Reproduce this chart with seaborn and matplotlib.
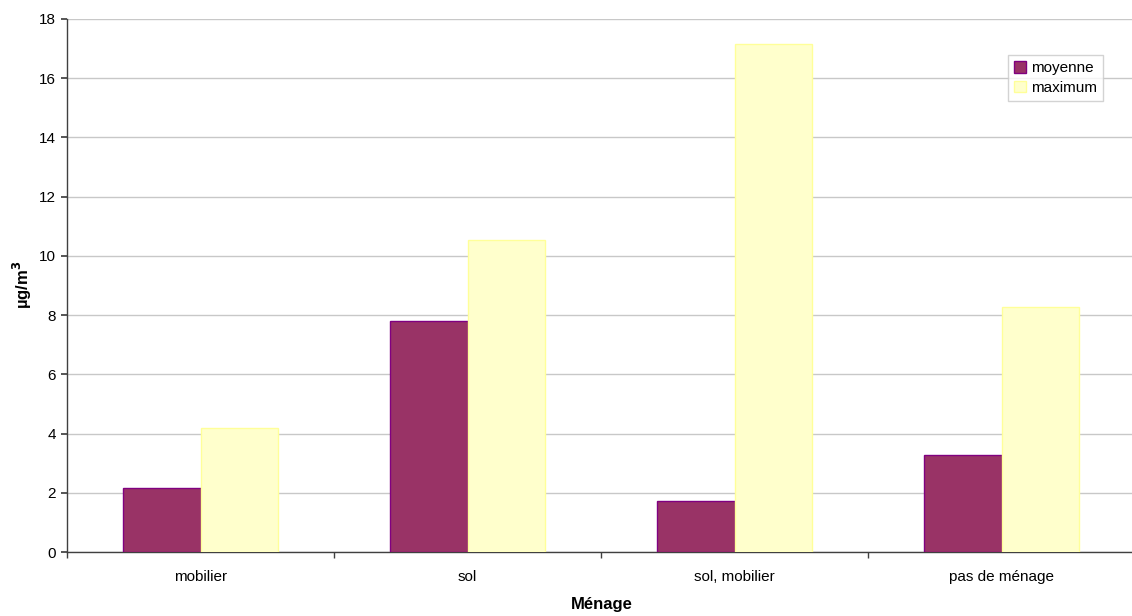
import matplotlib
matplotlib.use("Agg")
import matplotlib.pyplot as plt
import seaborn as sns
import pandas as pd
from matplotlib.ticker import FixedLocator
from matplotlib.patches import Patch

categories = ["mobilier", "sol", "sol, mobilier", "pas de ménage"]
moyenne = [2.15, 7.8, 1.72, 3.28]
maximum = [4.2, 10.55, 17.15, 8.27]
series_names = ["moyenne", "maximum"]
yticks = [0, 2, 4, 6, 8, 10, 12, 14, 16, 18]

df = pd.DataFrame({
    "Ménage": categories * 2,
    "serie": [series_names[0]] * 4 + [series_names[1]] * 4,
    "val": moyenne + maximum,
})

sns.set_theme(style="white")
plt.rcParams['font.family'] = ['Liberation Sans', 'DejaVu Sans']
plt.rcParams['text.color'] = 'black'
plt.rcParams['axes.labelcolor'] = 'black'
plt.rcParams['xtick.color'] = 'black'
plt.rcParams['ytick.color'] = 'black'

fig = plt.figure(figsize=(11.32, 6.16), dpi=100)
ax = fig.add_axes([67/1132, 64/616, 1068/1132, 533/616])

face = {"moyenne": "#993366", "maximum": "#FFFFCC"}
edge = {"moyenne": "#800080", "maximum": "#FFFF99"}

sns.barplot(data=df, x="Ménage", y="val", hue="serie", order=categories,
            hue_order=series_names, palette=face, width=0.577, ax=ax,
            saturation=1, legend=False, zorder=3)

for patch_container, name in zip(ax.containers, series_names):
    for p in patch_container:
        p.set_edgecolor(edge[name])
        p.set_linewidth(1.0)

ax.set_xlim(-0.5, 3.5)
ax.set_ylim(0, 18)
ax.set_yticks(yticks)
ax.yaxis.grid(True, color="#c8c8c8", linewidth=1.0, zorder=0)
ax.set_axisbelow(True)

for s in ["top", "right"]:
    ax.spines[s].set_visible(False)
ax.spines["left"].set_color("#404040")
ax.spines["bottom"].set_color("#404040")
ax.spines["left"].set_linewidth(1.0)
ax.spines["bottom"].set_linewidth(1.0)

ax.tick_params(axis="x", which="major", length=0, labelsize=11, pad=13, labelcolor="black")
ax.xaxis.set_minor_locator(FixedLocator([-0.5, 0.5, 1.5, 2.5, 3.5]))
ax.tick_params(axis="x", which="minor", length=4, color="#404040", direction="out", bottom=True)
ax.tick_params(axis="y", length=4, color="#404040", direction="out", left=True,
               labelsize=11, pad=4, labelcolor="black")

ax.set_xlabel("Ménage", fontsize=12, fontweight="bold", color="black", va="center")
ax.xaxis.set_label_coords(535/1068, (552-604)/533)
ax.set_ylabel("µg/m$^{\\mathbf{3}}$", fontsize=12, fontweight="bold", color="black", va="center")
ax.yaxis.set_label_coords((22-67)/1068, (552-285)/533)

handles = [Patch(facecolor=face[n], edgecolor=edge[n], label=n) for n in series_names]
leg = ax.legend(handles=handles, loc="upper left",
                bbox_to_anchor=((1008-67)/1068, (552-55)/533),
                frameon=True, fancybox=False, fontsize=11,
                handlelength=0.8, handleheight=0.8, handletextpad=0.3,
                borderpad=0.4, labelspacing=0.35, borderaxespad=0)
leg.get_frame().set_edgecolor("#c8c8c8")
leg.get_frame().set_linewidth(1.0)

fig.savefig("out.png", dpi=100)
